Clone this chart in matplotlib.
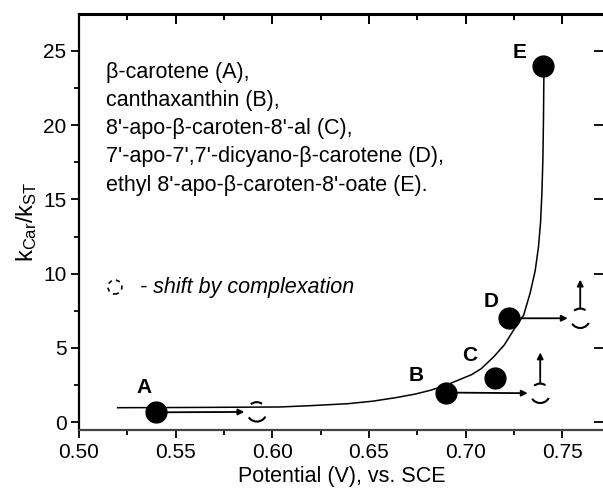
import matplotlib
matplotlib.use("Agg")
import matplotlib.pyplot as plt
import matplotlib.lines as mlines
from matplotlib.ticker import MultipleLocator

plt.rcParams["font.family"] = ["Liberation Sans", "DejaVu Sans"]
plt.rcParams["mathtext.default"] = "regular"

# measured points (filled circles)
names = ["A", "B", "C", "D", "E"]
potential = [0.540, 0.690, 0.715, 0.7226, 0.740]
k_ratio = [0.67, 2.0, 3.0, 7.0, 24.0]

# shifted positions after complexation (dashed circles) for A, B, D
shift_of = ["A", "B", "D"]
shift_x = [0.592, 0.7386, 0.7593]
shift_y = [0.70, 1.95, 7.0]
shift_up = [None, 4.7, 9.6]

# trend curve
curve_x = [0.520, 0.563, 0.604, 0.620, 0.639, 0.652, 0.664, 0.674, 0.682, 0.690,
           0.697, 0.703, 0.708, 0.7145, 0.720, 0.7248, 0.730, 0.7334, 0.736,
           0.7377, 0.7388, 0.7395, 0.7400, 0.7403, 0.7405]
curve_y = [0.98, 1.00, 1.03, 1.12, 1.25, 1.42, 1.66, 1.90, 2.16, 2.50,
           2.88, 3.20, 3.60, 4.40, 5.20, 6.20, 7.20, 8.70, 10.2,
           11.8, 13.5, 15.5, 17.8, 20.5, 23.4]

legend_lines = [
    "\u03b2-carotene (A),",
    "canthaxanthin (B),",
    "8'-apo-\u03b2-caroten-8'-al (C),",
    "7'-apo-7',7'-dicyano-\u03b2-carotene (D),",
    "ethyl 8'-apo-\u03b2-caroten-8'-oate (E).",
]

fig = plt.figure(figsize=(6.03, 4.88), dpi=100)
ax = fig.add_axes([79 / 603, 58 / 488, 525 / 603, 416 / 488])

ax.plot(curve_x, curve_y, color="black", lw=1.1, zorder=2)
ax.scatter(potential, k_ratio, s=15 ** 2, color="black", zorder=4)

dash = (5.0, (10, 7.0, 5.8, 7.0))
ax.scatter(shift_x, shift_y, s=14 ** 2, facecolors="none", edgecolors="black",
           linewidths=1.5, linestyles=[dash], zorder=3)

for src, sx, sy, up in zip(shift_of, shift_x, shift_y, shift_up):
    i = names.index(src)
    ax.annotate("", xy=(sx, sy), xytext=(potential[i], k_ratio[i]),
                arrowprops=dict(arrowstyle="-|>", color="black", lw=1.3,
                                mutation_scale=9, shrinkA=8, shrinkB=9))
    if up is not None:
        ax.annotate("", xy=(sx, up), xytext=(sx, sy),
                    arrowprops=dict(arrowstyle="-|>", color="black", lw=1.3,
                                    mutation_scale=9, shrinkA=7, shrinkB=0))

# point labels
label_dx = [-0.0064, -0.0155, -0.0128, -0.0096, -0.012]
label_dy = [1.68, 1.15, 1.5, 1.1, 0.9]
for n, x, y, dx, dy in zip(names, potential, k_ratio, label_dx, label_dy):
    ax.text(x + dx, y + dy, n, fontsize=15, fontweight="bold",
            ha="center", va="center")

for j, line in enumerate(legend_lines):
    ax.text(0.514, 23.57 - j * 1.9, line, fontsize=15.5, ha="left", va="center")

ax.scatter([0.5186], [9.1], s=10 ** 2, facecolors="none", edgecolors="black",
           linewidths=1.2, linestyles=[(0, (2.5, 2.5))])
ax.text(0.5315, 9.1, "- shift by complexation", fontsize=15.5, style="italic",
        ha="left", va="center")

ax.set_xlim(0.50, 0.7716)
ax.set_ylim(-0.52, 27.48)
ax.xaxis.set_major_locator(MultipleLocator(0.05))
ax.xaxis.set_minor_locator(MultipleLocator(0.025))
ax.yaxis.set_major_locator(MultipleLocator(5))
ax.yaxis.set_minor_locator(MultipleLocator(2.5))
ax.xaxis.set_major_formatter(plt.FormatStrFormatter("%.2f"))

ax.tick_params(which="both", direction="out", labelsize=15, width=1.3, pad=3,
               top=False, right=False)
ax.tick_params(which="major", length=6)
ax.tick_params(which="minor", length=3.5)

for side in ["left", "bottom", "right"]:
    ax.spines[side].set_linewidth(1.6)
ax.spines["top"].set_linewidth(2.2)
ax.spines["bottom"].set_color("#444444")

# inward ticks on top and right, placed at the axis' own tick locations
x0, x1 = ax.get_xlim()
y0, y1 = ax.get_ylim()
top_major = [v for v in ax.xaxis.get_majorticklocs() if x0 <= v <= x1]
top_minor = [v for v in ax.xaxis.get_minorticklocs() if x0 <= v <= x1]
right_major = [v for v in ax.yaxis.get_majorticklocs() if y0 <= v <= y1]
ax.plot(top_major, [1] * len(top_major), transform=ax.get_xaxis_transform(),
        ls="none", marker=mlines.TICKDOWN, markersize=7.5, mew=1.4,
        color="black", clip_on=False, zorder=5)
ax.plot(top_minor, [1] * len(top_minor), transform=ax.get_xaxis_transform(),
        ls="none", marker=mlines.TICKDOWN, markersize=4.5, mew=1.4,
        color="black", clip_on=False, zorder=5)
ax.plot([1] * len(right_major), right_major, transform=ax.get_yaxis_transform(),
        ls="none", marker=mlines.TICKLEFT, markersize=7.5, mew=1.3,
        color="black", clip_on=False, zorder=5)
ax.set_xlim(x0, x1)
ax.set_ylim(y0, y1)

ax.set_xlabel("Potential (V), vs. SCE", fontsize=15.5, labelpad=3)
ax.set_ylabel("$k_{Car}/k_{ST}$", fontsize=17, labelpad=3)

fig.savefig("out.png", dpi=100)
